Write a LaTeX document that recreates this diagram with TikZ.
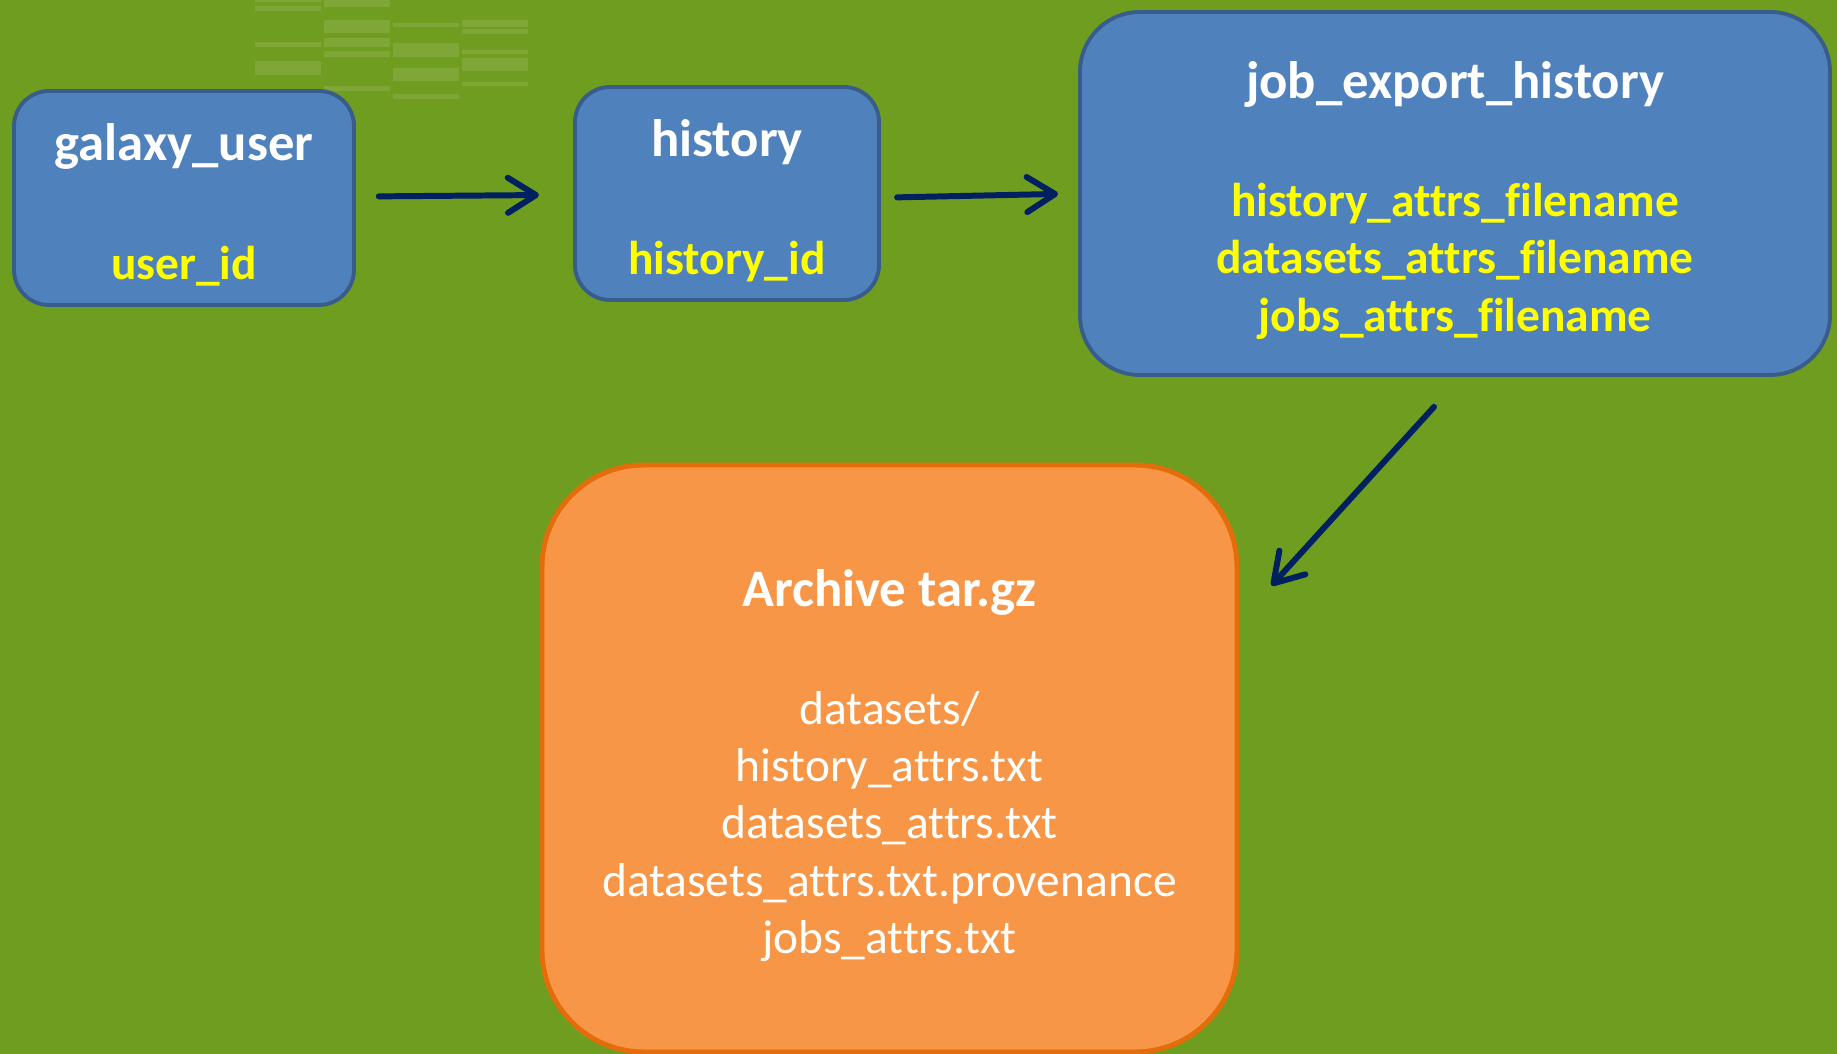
\documentclass[tikz,border=0pt]{standalone}
\usepackage{fontspec}
\setmainfont{Carlito}[Ligatures=NoCommon]
\usetikzlibrary{arrows.meta}

\definecolor{slidegreen}{RGB}{111,157,32}
\definecolor{tableblue}{RGB}{79,129,189}
\definecolor{tableedge}{RGB}{56,93,138}
\definecolor{archorange}{RGB}{247,150,70}
\definecolor{archedge}{RGB}{228,108,10}
\definecolor{linknavy}{RGB}{0,32,96}
\definecolor{fieldyellow}{RGB}{255,255,0}

\newcommand\titletext{\fontsize{15}{16.3}\selectfont\bfseries\rule{0pt}{14.4pt}}
\newcommand\fieldtext{\fontsize{13.5}{16.3}\selectfont\bfseries\color{fieldyellow}}

\tikzset{
  tablebox/.style={draw=tableedge, fill=tableblue, line width=1.1pt, text=white,
    align=center, font=\fontsize{13.5}{16.3}\selectfont},
  archbox/.style={draw=archedge, fill=archorange, line width=1.4pt, text=white,
    align=center, font=\fontsize{13.5}{16.3}\selectfont, rounded corners=29pt},
  flow/.style={draw=linknavy, line width=1.7pt, line cap=round,
    -{Straight Barb[length=8pt,width=10pt,line cap=round,line join=round]}}
}

\begin{document}
\begin{tikzpicture}[x=0.1mm, y=-0.1mm]
    \useasboundingbox (0, 0) rectangle (1837, 1054);
    \fill[slidegreen] (0, 0) rectangle (1837, 1054);

    % faded table in the background
    \foreach \xa/\ya/\yb in {255/0/2, 255/6/11, 255/42/47, 255/61/75,
        324/0/7, 324/20/33, 324/38/47, 324/51/57, 324/86/91,
        393/23/27, 393/43/57, 393/68/81, 393/94/99,
        462/20/27, 462/29/34, 462/50/54, 462/58/71, 462/82/86}
      \fill[white, opacity=0.11] (\xa, \ya) rectangle ({\xa + 66}, \yb);

    \node[tablebox, minimum width=34mm, minimum height=21.4mm, rounded corners=10pt] (user) at (184, 198)
      {{\titletext galaxy\_user}\\[17.3pt]{\fieldtext user\_id}};
    \node[tablebox, minimum width=30.4mm, minimum height=21.3mm, rounded corners=10pt] (hist) at (727, 193.5)
      {{\titletext history}\\[17.3pt]{\fieldtext history\_id}};
    \node[tablebox, minimum width=75mm, minimum height=36.3mm, rounded corners=17pt] (job) at (1455, 193.5)
      {{\titletext job\_export\_history}\\[17.3pt]{\fieldtext history\_attrs\_filename}\\
       {\fieldtext datasets\_attrs\_filename}\\ {\fieldtext jobs\_attrs\_filename}};
    \node[archbox, minimum width=69.5mm, minimum height=58.7mm] (arch) at (889.5, 758.5)
      {{\titletext Archive tar.gz}\\[17.3pt]datasets/\\ history\_attrs.txt\\ datasets\_attrs.txt\\
       datasets\_attrs.txt.provenance\\ jobs\_attrs.txt};

    \draw[flow, shorten <=6.5pt, shorten >=9.7pt] (user) -- (hist);
    \draw[flow, shorten <=4.6pt, shorten >=5.7pt] ([yshift=-1.2pt]hist.east) -- (job.west);
    \draw[flow] ([shift={(-21, 30)}]job.south) -- ([shift={(32, 123)}]arch.north east);
\end{tikzpicture}
\end{document}
